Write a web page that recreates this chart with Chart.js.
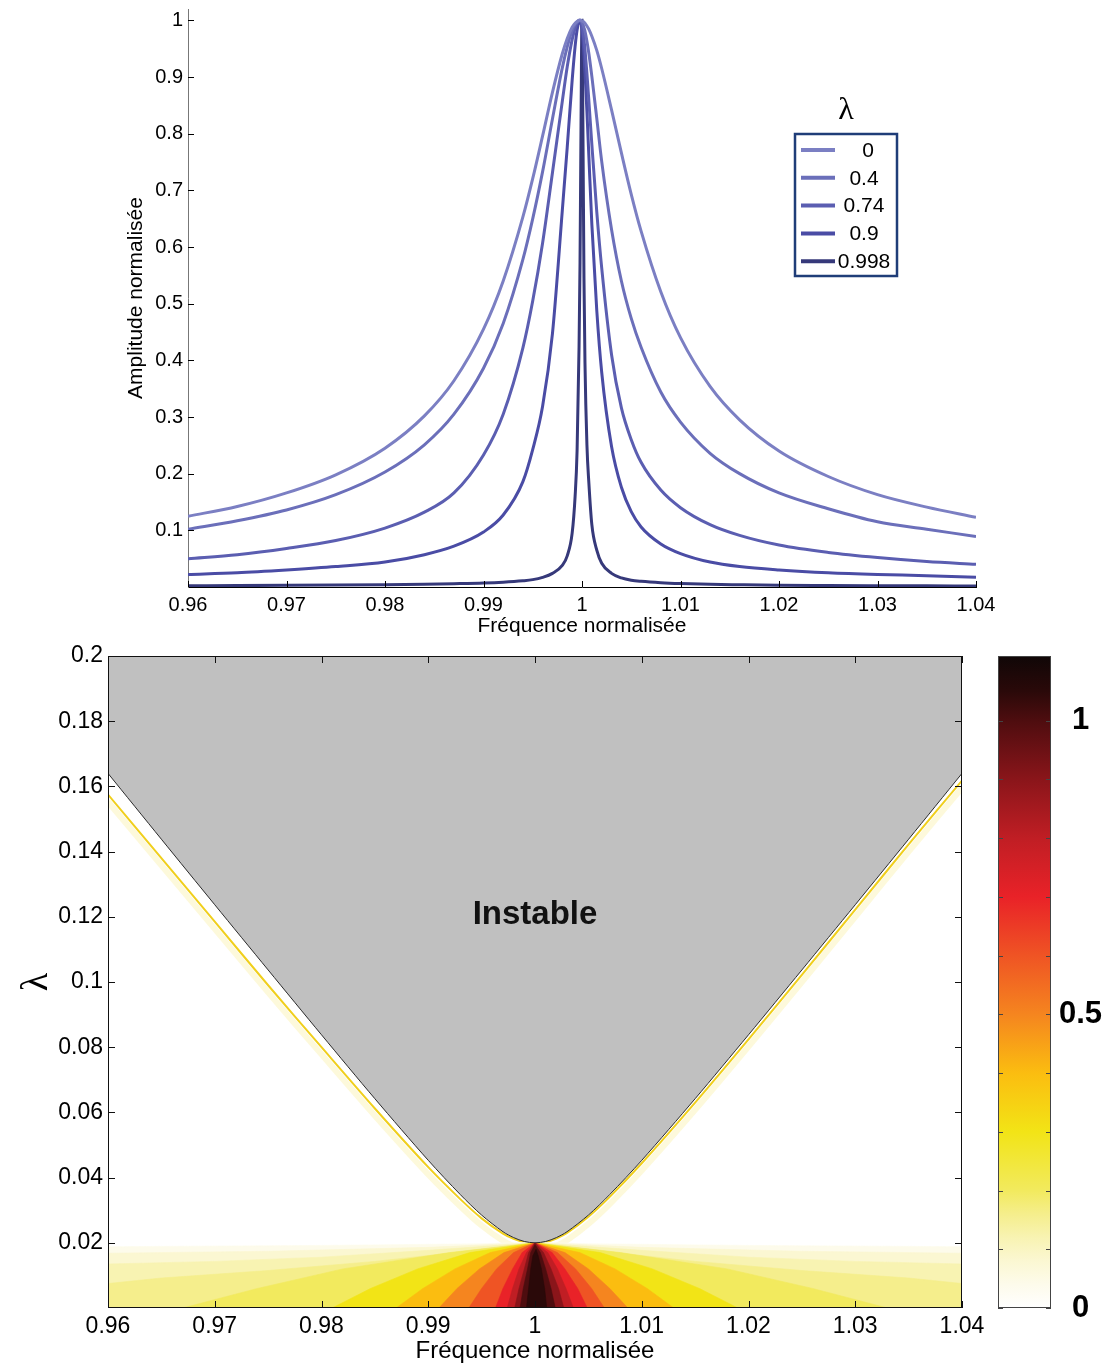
<!DOCTYPE html>
<html>
<head>
<meta charset="utf-8">
<title>Amplitude normalisée / carte de stabilité</title>
<script src="https://cdn.jsdelivr.net/npm/chart.js@4.4.1/dist/chart.umd.min.js"></script>
<style>
  html, body { margin: 0; padding: 0; background: #fff; }
  #wrap { position: relative; width: 1110px; height: 1366px; }
  #topBox { position: absolute; left: 0; top: 0; width: 1110px; height: 640px; }
  #mapBox { position: absolute; left: 0; top: 640px; width: 1110px; height: 726px; }
  #barBox { position: absolute; left: 990px; top: 640px; width: 120px; height: 726px; }
</style>
</head>
<body>
<div id="wrap">
  <div id="topBox"><canvas id="ampChart"></canvas></div>
  <div id="mapBox"><canvas id="mapChart"></canvas></div>
  <div id="barBox"><canvas id="barChart"></canvas></div>
</div>
<script>
// ---------- top chart data: amplitude vs normalised frequency ----------
const lambdaLabels = ["0", "0.4", "0.74", "0.9", "0.998"];
const curveColors = ["#7b7fc3", "#6b6fba", "#5b5eb1", "#4a4ca5", "#36397a"];

const freqTop = [0.96, 0.965, 0.97, 0.975, 0.98, 0.984, 0.987, 0.99, 0.992, 0.994, 0.995, 0.996,
  0.997, 0.998, 0.9985, 0.999, 0.9993, 0.9995, 0.9997, 0.9998, 0.9999, 1.0, 1.0001, 1.0002,
  1.0003, 1.0005, 1.0007, 1.001, 1.0015, 1.002, 1.003, 1.004, 1.005, 1.006, 1.008, 1.01,
  1.013, 1.016, 1.02, 1.025, 1.03, 1.035, 1.04];

const amp0 = [0.125, 0.142, 0.166, 0.198, 0.245, 0.302, 0.364, 0.455, 0.540, 0.653, 0.721, 0.796,
  0.873, 0.941, 0.968, 0.988, 0.995, 0.998, 1.0, 1.0, 1.0, 0.999, 0.998, 0.997,
  0.995, 0.990, 0.984, 0.972, 0.947, 0.915, 0.842, 0.766, 0.693, 0.628, 0.521, 0.440,
  0.354, 0.295, 0.240, 0.195, 0.163, 0.141, 0.123];
const amp04 = [0.102, 0.117, 0.136, 0.163, 0.203, 0.251, 0.305, 0.386, 0.465, 0.578, 0.650, 0.733,
  0.826, 0.916, 0.953, 0.982, 0.993, 0.997, 1.0, 1.0, 0.999, 0.997, 0.993, 0.987,
  0.981, 0.963, 0.941, 0.901, 0.827, 0.751, 0.631, 0.540, 0.474, 0.423, 0.344, 0.291,
  0.236, 0.200, 0.166, 0.138, 0.115, 0.102, 0.089];
const amp074 = [0.050, 0.057, 0.068, 0.082, 0.104, 0.132, 0.166, 0.233, 0.305, 0.422, 0.505, 0.607,
  0.731, 0.857, 0.918, 0.966, 0.986, 0.995, 0.999, 1.0, 0.998, 0.991, 0.981, 0.966,
  0.949, 0.906, 0.857, 0.781, 0.662, 0.563, 0.410, 0.316, 0.260, 0.220, 0.171, 0.140,
  0.110, 0.091, 0.074, 0.061, 0.052, 0.045, 0.040];
const amp09 = [0.022, 0.025, 0.030, 0.036, 0.044, 0.057, 0.072, 0.097, 0.127, 0.186, 0.243, 0.319,
  0.447, 0.664, 0.776, 0.894, 0.954, 0.983, 0.998, 1.0, 0.996, 0.984, 0.965, 0.940,
  0.910, 0.839, 0.759, 0.640, 0.488, 0.379, 0.248, 0.176, 0.133, 0.106, 0.076, 0.059,
  0.044, 0.036, 0.030, 0.025, 0.022, 0.020, 0.017];
const amp0998 = [0.0022, 0.0025, 0.0029, 0.0034, 0.0041, 0.0049, 0.0058, 0.007, 0.0085, 0.011, 0.013, 0.017,
  0.024, 0.038, 0.055, 0.095, 0.16, 0.24, 0.423, 0.573, 0.814, 1.0, 0.792, 0.545,
  0.397, 0.251, 0.183, 0.11, 0.065, 0.042, 0.024, 0.016, 0.012, 0.010, 0.0075, 0.006,
  0.0047, 0.004, 0.0032, 0.0027, 0.0023, 0.002, 0.0018];
const ampSeries = [amp0, amp04, amp074, amp09, amp0998];

const xTicks = [0.96, 0.97, 0.98, 0.99, 1.0, 1.01, 1.02, 1.03, 1.04];
const yTicksTop = [0.1, 0.2, 0.3, 0.4, 0.5, 0.6, 0.7, 0.8, 0.9, 1.0];

// ---------- bottom chart data: stability map ----------
const yTicksMap = [0.02, 0.04, 0.06, 0.08, 0.1, 0.12, 0.14, 0.16, 0.18, 0.2];

// boundary of the unstable (grey) zone, lambda vs frequency
const boundaryFreq = [0.96, 0.965, 0.97, 0.975, 0.98, 0.985, 0.99, 0.993, 0.995, 0.997, 0.998, 0.999,
  1.0, 1.001, 1.002, 1.003, 1.005, 1.007, 1.01, 1.015, 1.02, 1.025, 1.03, 1.035, 1.04];
const boundaryLambda = [0.164, 0.1438, 0.1237, 0.1037, 0.0838, 0.0642, 0.0453, 0.0348, 0.0285, 0.0234, 0.0216, 0.0204,
  0.0200, 0.0204, 0.0216, 0.0234, 0.0285, 0.0348, 0.0453, 0.0642, 0.0838, 0.1037, 0.1237, 0.1438, 0.164];
// thin yellow ridge just under the boundary
const ridgeLambda = [0.1575, 0.138, 0.1185, 0.099, 0.080, 0.0612, 0.0432, 0.0334, 0.0275, 0.0228, 0.0212, 0.0202,
  0.0200, 0.0202, 0.0213, 0.0230, 0.0280, 0.0341, 0.0444, 0.0630, 0.0824, 0.1022, 0.1222, 0.1422, 0.1618];

// contour polygons of the amplitude map below lambda = 0.02, [freq, lambda]
const contourLevels = [0.04, 0.08, 0.12, 0.16, 0.2, 0.3, 0.4, 0.5, 0.6, 0.7, 0.8, 0.9, 1.0, 1.05];
const contour004 = [[0.96, 0], [0.96, 0.0188], [0.98, 0.0192], [0.995, 0.0197], [1.0, 0.0202], [1.005, 0.0197], [1.02, 0.0192], [1.04, 0.0188], [1.04, 0]];
const contour008 = [[0.96, 0], [0.96, 0.0168], [0.975, 0.0174], [0.99, 0.0186], [1.0, 0.0201], [1.01, 0.0186], [1.025, 0.0174], [1.04, 0.0168], [1.04, 0]];
const contour012 = [[0.96, 0], [0.96, 0.0135], [0.97, 0.0143], [0.98, 0.0156], [0.99, 0.0177], [1.0, 0.02], [1.01, 0.0177], [1.02, 0.0156], [1.03, 0.0143], [1.04, 0.0135], [1.04, 0]];
const contour016 = [[0.96, 0], [0.96, 0.0075], [0.965, 0.0092], [0.975, 0.0115], [0.985, 0.0143], [0.993, 0.0172], [1.0, 0.02], [1.007, 0.0172], [1.015, 0.0143], [1.025, 0.0115], [1.035, 0.0092], [1.04, 0.0075], [1.04, 0]];
const contour02 = [[0.967, 0], [0.974, 0.006], [0.982, 0.012], [0.992, 0.017], [1.0, 0.02], [1.008, 0.017], [1.018, 0.012], [1.026, 0.006], [1.033, 0]];
const contour03 = [[0.981, 0], [0.9846, 0.006], [0.989, 0.012], [0.9939, 0.017], [1.0, 0.02], [1.0061, 0.017], [1.011, 0.012], [1.0154, 0.006], [1.019, 0]];
const contour04 = [[0.987, 0], [0.9895, 0.006], [0.9925, 0.012], [0.9958, 0.017], [1.0, 0.02], [1.0042, 0.017], [1.0075, 0.012], [1.0105, 0.006], [1.013, 0]];
const contour05 = [[0.991, 0], [0.9927, 0.006], [0.9948, 0.012], [0.9971, 0.017], [1.0, 0.02], [1.0028, 0.017], [1.005, 0.012], [1.007, 0.006], [1.0087, 0]];
const contour06 = [[0.9938, 0], [0.995, 0.006], [0.9964, 0.012], [0.998, 0.017], [1.0, 0.02], [1.0021, 0.017], [1.0038, 0.012], [1.0053, 0.006], [1.0065, 0]];
const contour07 = [[0.9963, 0], [0.997, 0.006], [0.9979, 0.012], [0.9988, 0.017], [1.0, 0.02], [1.0016, 0.017], [1.0028, 0.012], [1.004, 0.006], [1.0049, 0]];
const contour08 = [[0.9974, 0], [0.9979, 0.006], [0.9985, 0.012], [0.9992, 0.017], [1.0, 0.02], [1.0012, 0.017], [1.0021, 0.012], [1.0029, 0.006], [1.0036, 0]];
const contour09 = [[0.9981, 0], [0.9985, 0.006], [0.999, 0.012], [0.9994, 0.017], [1.0, 0.02], [1.0008, 0.017], [1.0015, 0.012], [1.0022, 0.006], [1.0027, 0]];
const contour10 = [[0.9986, 0], [0.9989, 0.006], [0.9993, 0.012], [0.9996, 0.017], [1.0, 0.0195], [1.0005, 0.017], [1.001, 0.012], [1.0015, 0.006], [1.0019, 0]];
const contour105 = [[0.9992, 0], [0.9994, 0.006], [0.9996, 0.012], [0.9998, 0.016], [1.0001, 0.018], [1.0003, 0.016], [1.0006, 0.012], [1.0009, 0.006], [1.0011, 0]];
const contours = [contour004, contour008, contour012, contour016, contour02, contour03, contour04,
  contour05, contour06, contour07, contour08, contour09, contour10, contour105];

// colour map (value -> colour), shared by map and colour bar
const cmapValues = [0, 0.04, 0.08, 0.12, 0.16, 0.2, 0.3, 0.4, 0.5, 0.6, 0.7, 0.8, 0.9, 1.0, 1.05, 1.11];
const cmapColors = ["#ffffff", "#fdfbeb", "#fbf7d2", "#f8f3b2", "#f5ee8c", "#f2ea5e", "#f2e416", "#fbbd10",
  "#f5851f", "#ef5424", "#e92228", "#c01e24", "#8a151a", "#4e0d0f", "#2a0909", "#100707"];
const cbTicks = [0, 0.1, 0.2, 0.3, 0.4, 0.5, 0.6, 0.7, 0.8, 0.9, 1.0];
const cbLabels = [0, 0.5, 1];
const cbMax = 1.11;

const FONT = "'Liberation Sans', Arial, Helvetica, sans-serif";
const SERIF = "'Liberation Serif', 'DejaVu Serif', serif";
Chart.defaults.font.family = FONT;
Chart.defaults.color = "#000";

function colorFor(level) {
  const i = cmapValues.indexOf(level);
  return cmapColors[i];
}

// drop the extra room Chart.js keeps for the end tick labels
function noEndPadding(s) {
  s.paddingTop = 0;
  s.paddingBottom = 0;
}

// inner tick marks and optional box, drawn over the data
const framePlugin = {
  id: "frame",
  afterDatasetsDraw(chart, args, opts) {
    const { ctx, chartArea: a, scales } = chart;
    ctx.save();
    ctx.strokeStyle = opts.color || "#000";
    ctx.lineWidth = 1;
    if (opts.box) {
      ctx.strokeRect(a.left + 0.5, a.top + 0.5, a.right - a.left - 1, a.bottom - a.top - 1);
    }
    const len = opts.tickLength || 6;
    ctx.beginPath();
    (opts.sides || []).forEach(side => {
      const sc = (side === "left" || side === "right") ? scales.y : scales.x;
      sc.ticks.forEach(t => {
        const p = Math.round(sc.getPixelForValue(t.value)) + 0.5;
        if (side === "left") { ctx.moveTo(a.left, p); ctx.lineTo(a.left + len, p); }
        if (side === "right") { ctx.moveTo(a.right, p); ctx.lineTo(a.right - len, p); }
        if (side === "bottom") { ctx.moveTo(p, a.bottom); ctx.lineTo(p, a.bottom - len); }
        if (side === "top") { ctx.moveTo(p, a.top); ctx.lineTo(p, a.top + len); }
      });
    });
    ctx.stroke();
    ctx.restore();
  }
};

// legend box with lambda title, top chart
const lambdaLegend = {
  id: "lambdaLegend",
  afterDraw(chart) {
    const ctx = chart.ctx;
    const bx = 795, by = 134, bw = 102, bh = 142;
    ctx.save();
    ctx.fillStyle = "#fff";
    ctx.fillRect(bx, by, bw, bh);
    ctx.strokeStyle = "#1f3d78";
    ctx.lineWidth = 2.5;
    ctx.strokeRect(bx, by, bw, bh);
    ctx.fillStyle = "#000";
    ctx.textAlign = "center";
    ctx.textBaseline = "middle";
    ctx.font = "32px " + SERIF;
    ctx.fillText("\u03bb", 846, 111);
    ctx.font = "21px " + FONT;
    chart.data.datasets.forEach((ds, i) => {
      const y = 150 + i * 27.8;
      ctx.strokeStyle = ds.borderColor;
      ctx.lineWidth = 4;
      ctx.beginPath();
      ctx.moveTo(801, y);
      ctx.lineTo(835, y);
      ctx.stroke();
      ctx.fillText(ds.label, i === 0 ? 868 : 864, y + 1);
    });
    ctx.restore();
  }
};

// label inside the unstable zone
const zoneLabel = {
  id: "zoneLabel",
  afterDatasetsDraw(chart) {
    const { ctx, scales } = chart;
    ctx.save();
    ctx.fillStyle = "#111";
    ctx.font = "bold 33px " + FONT;
    ctx.textAlign = "center";
    ctx.textBaseline = "middle";
    ctx.fillText("Instable", scales.x.getPixelForValue(1.0), scales.y.getPixelForValue(0.1205));
    ctx.restore();
  }
};

// ---------- top chart ----------
new Chart(document.getElementById("ampChart"), {
  type: "line",
  data: {
    datasets: ampSeries.map((arr, i) => ({
      label: lambdaLabels[i],
      data: freqTop.map((f, j) => ({ x: f, y: arr[j] })),
      borderColor: curveColors[i],
      borderWidth: 3,
      pointRadius: 0,
      fill: false,
      cubicInterpolationMode: "monotone",
      order: i
    }))
  },
  options: {
    responsive: true,
    maintainAspectRatio: false,
    animation: false,
    layout: { padding: { left: 122, right: 134, top: 9, bottom: 0 } },
    plugins: {
      legend: { display: false },
      tooltip: { enabled: false },
      frame: { sides: ["left", "bottom"], tickLength: 6, color: "#000" }
    },
    scales: {
      x: {
        type: "linear", min: 0.96, max: 1.04,
        afterBuildTicks: ax => { ax.ticks = xTicks.map(v => ({ value: v })); },
        ticks: { callback: v => String(+v.toFixed(2)), font: { size: 20 }, color: "#000", padding: 6, autoSkip: false, maxRotation: 0 },
        grid: { display: false, drawTicks: false },
        border: { display: true, color: "#000", width: 1 },
        title: { display: true, text: "Fréquence normalisée", font: { size: 21 }, color: "#000", padding: { top: 0, bottom: 1 } },
        afterFit: s => { s.height = 53; }
      },
      y: {
        type: "linear", min: 0, max: 1.02,
        afterBuildTicks: ax => { ax.ticks = yTicksTop.map(v => ({ value: v })); },
        ticks: { callback: v => String(+v.toFixed(1)), font: { size: 20 }, color: "#000", padding: 5, autoSkip: false },
        grid: { display: false, drawTicks: false },
        border: { display: true, color: "#777", width: 1 },
        title: { display: true, text: "Amplitude normalisée", font: { size: 21 }, color: "#000", padding: { top: 2, bottom: 0 } },
        afterFit: s => { s.width = 66; noEndPadding(s); }
      }
    }
  },
  plugins: [framePlugin, lambdaLegend]
});

// ---------- bottom chart: stability map ----------
// drawing sequence: ridge halo, ridge, amplitude contours, unstable zone
const mapDatasets = [];
mapDatasets.push({
  data: boundaryFreq.map((f, j) => ({ x: f, y: ridgeLambda[j] - 0.0022 })),
  fill: false, borderColor: "rgba(251, 244, 190, 0.55)", borderWidth: 6, pointRadius: 0, tension: 0.3
});
mapDatasets.push({
  data: boundaryFreq.map((f, j) => ({ x: f, y: ridgeLambda[j] })),
  fill: false, borderColor: "#f0cf1c", borderWidth: 2, pointRadius: 0, tension: 0.3
});
contours.forEach((poly, i) => {
  const c = colorFor(contourLevels[i]);
  mapDatasets.push({
    data: poly.map(p => ({ x: p[0], y: p[1] })),
    fill: "shape",
    backgroundColor: c,
    borderColor: c,
    borderWidth: 0.6,
    pointRadius: 0,
    tension: 0
  });
});
mapDatasets.push({
  data: boundaryFreq.map((f, j) => ({ x: f, y: boundaryLambda[j] })),
  fill: "end", backgroundColor: "#c0c0c0", borderColor: "#2a2a2a", borderWidth: 1, pointRadius: 0, tension: 0.3
});
mapDatasets.forEach((ds, i) => { ds.order = mapDatasets.length - i; });

new Chart(document.getElementById("mapChart"), {
  type: "line",
  data: { datasets: mapDatasets },
  options: {
    responsive: true,
    maintainAspectRatio: false,
    animation: false,
    layout: { padding: { left: 14, right: 148, top: 16, bottom: 0 } },
    plugins: {
      legend: { display: false },
      tooltip: { enabled: false },
      frame: { box: true, sides: ["left", "right", "bottom", "top"], tickLength: 7, color: "#111" }
    },
    scales: {
      x: {
        type: "linear", min: 0.96, max: 1.04,
        afterBuildTicks: ax => { ax.ticks = xTicks.map(v => ({ value: v })); },
        ticks: { callback: v => String(+v.toFixed(2)), font: { size: 23 }, color: "#000", padding: 5, autoSkip: false, maxRotation: 0 },
        grid: { display: false, drawTicks: false },
        border: { display: false },
        title: { display: true, text: "Fréquence normalisée", font: { size: 24 }, color: "#000", padding: { top: 0, bottom: 0 } },
        afterFit: s => { s.height = 58; }
      },
      y: {
        type: "linear", min: 0, max: 0.2,
        afterBuildTicks: ax => { ax.ticks = yTicksMap.map(v => ({ value: v })); },
        ticks: { callback: v => String(+v.toFixed(2)), font: { size: 23 }, color: "#000", padding: 5, autoSkip: false },
        grid: { display: false, drawTicks: false },
        border: { display: false },
        title: { display: true, text: "\u03bb", font: { size: 38, family: SERIF }, color: "#000", padding: { top: 0, bottom: 0 } },
        afterFit: s => { s.width = 94; noEndPadding(s); }
      }
    }
  },
  plugins: [framePlugin, zoneLabel]
});

// ---------- colour bar ----------
function barGradient(context) {
  const chart = context.chart;
  const { ctx, chartArea, scales } = chart;
  if (!chartArea) return cmapColors[0];
  const y0 = scales.y.getPixelForValue(0);
  const y1 = scales.y.getPixelForValue(cbMax);
  const g = ctx.createLinearGradient(0, y0, 0, y1);
  cmapValues.forEach((v, i) => g.addColorStop(Math.min(1, v / cbMax), cmapColors[i]));
  return g;
}

new Chart(document.getElementById("barChart"), {
  type: "bar",
  data: {
    labels: [""],
    datasets: [{ data: [[0, cbMax]], backgroundColor: barGradient, borderWidth: 0, barPercentage: 1, categoryPercentage: 1 }]
  },
  options: {
    responsive: true,
    maintainAspectRatio: false,
    animation: false,
    layout: { padding: { left: 8, right: 0, top: 16, bottom: 58 } },
    plugins: {
      legend: { display: false },
      tooltip: { enabled: false },
      frame: { box: true, sides: ["left", "right"], tickLength: 5, color: "#444" }
    },
    scales: {
      x: { display: false },
      y: {
        position: "right", min: 0, max: cbMax,
        afterBuildTicks: ax => { ax.ticks = cbTicks.map(v => ({ value: v })); },
        ticks: {
          callback: v => cbLabels.some(l => Math.abs(l - v) < 1e-9) ? String(+v.toFixed(1)) : "",
          font: { size: 31, weight: "bold" }, color: "#000", padding: 8, autoSkip: false, crossAlign: "center"
        },
        grid: { display: false, drawTicks: false },
        border: { display: false },
        afterFit: s => { s.width = 59; noEndPadding(s); }
      }
    }
  },
  plugins: [framePlugin]
});
</script>
</body>
</html>
